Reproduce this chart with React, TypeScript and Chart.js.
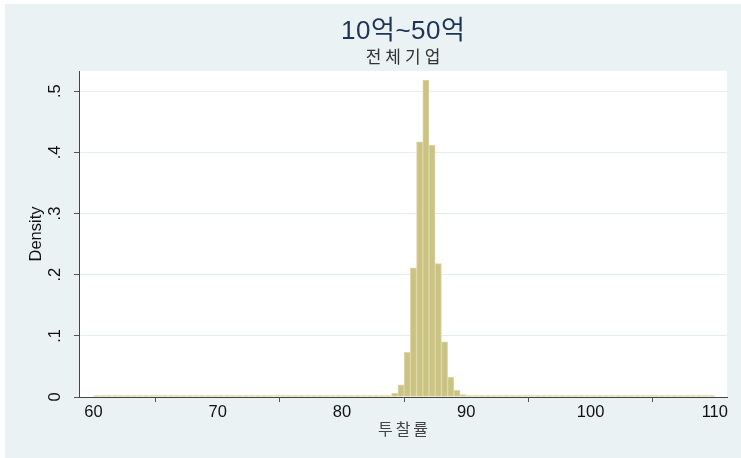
import React, { useEffect, useRef } from "react";
import { Chart, registerables } from "chart.js";

Chart.register(...registerables);

const titleText = "10억~50억";
const subtitleText = "전체기업";
const xTitle = "투찰률";
const yTitle = "Density";

const binStart = 60;
const binWidth = 0.5;
// density per bin (60.0–60.5, 60.5–61.0, ... 109.5–110.0)
const densities = [
  0, 0, 0, 0, 0, 0, 0, 0, 0, 0,
  0, 0, 0, 0, 0, 0, 0, 0, 0, 0,
  0, 0, 0, 0, 0, 0, 0, 0, 0, 0,
  0, 0, 0, 0, 0, 0, 0, 0, 0, 0,
  0, 0, 0, 0, 0, 0, 0, 0.001, 0.006, 0.02,
  0.073, 0.211, 0.417, 0.518, 0.412, 0.218, 0.09, 0.032, 0.011, 0.004,
  0.001, 0, 0, 0, 0, 0, 0, 0, 0, 0,
  0, 0, 0, 0, 0, 0, 0, 0, 0, 0,
  0, 0, 0, 0, 0, 0, 0, 0, 0, 0,
  0, 0, 0, 0, 0, 0, 0, 0, 0, 0,
];
const xTicks = [60, 70, 80, 90, 100, 110];
const yTicks = [0, 0.1, 0.2, 0.3, 0.4, 0.5];
const yTickLabels = ["0", ".1", ".2", ".3", ".4", ".5"];

const LATIN = "'Liberation Sans', Arial, 'Noto Sans CJK KR', sans-serif";
const KR = "'Liberation Sans', 'Noto Sans CJK KR', sans-serif";

function spacedText(ctx: CanvasRenderingContext2D, text: string, cx: number, cy: number, spacing: number) {
  const chars = Array.from(text);
  const widths = chars.map((c) => ctx.measureText(c).width);
  const total = widths.reduce((a, b) => a + b, 0) + spacing * (chars.length - 1);
  let x = cx - total / 2;
  ctx.textAlign = "left";
  chars.forEach((c, i) => {
    ctx.fillText(c, x, cy);
    x += widths[i] + spacing;
  });
}

export default function App() {
  const ref = useRef<HTMLCanvasElement | null>(null);

  useEffect(() => {
    document.body.style.margin = "0";
    const canvas = ref.current;
    if (!canvas) return;

    const bgPlugin = {
      id: "bgPlugin",
      beforeDraw(chart: any) {
        const { ctx, chartArea } = chart;
        ctx.save();
        ctx.fillStyle = "#ffffff";
        ctx.fillRect(0, 0, chart.width, chart.height);
        ctx.fillStyle = "#eaf2f3";
        ctx.fillRect(5, 4, chart.width - 5, chart.height - 4);
        ctx.fillStyle = "#ffffff";
        ctx.fillRect(chartArea.left, chartArea.top, chartArea.right - chartArea.left, chartArea.bottom - chartArea.top);
        ctx.restore();
      },
      afterDraw(chart: any) {
        const { ctx, chartArea } = chart;
        const cx = (chartArea.left + chartArea.right) / 2;
        const cy = (chartArea.top + chartArea.bottom) / 2;
        ctx.save();
        ctx.textBaseline = "middle";
        ctx.fillStyle = "#1e3359";
        ctx.font = `26px ${KR}`;
        spacedText(ctx, titleText, cx, 32, 0.5);
        ctx.fillStyle = "#333333";
        ctx.font = `17px ${KR}`;
        spacedText(ctx, subtitleText, cx, 58, 4);
        ctx.fillStyle = "#444444";
        ctx.font = `16px ${KR}`;
        spacedText(ctx, xTitle, cx, 431, 3);
        ctx.translate(36, cy);
        ctx.rotate(-Math.PI / 2);
        ctx.textAlign = "center";
        ctx.fillStyle = "#111111";
        ctx.font = `16.5px ${LATIN}`;
        ctx.fillText(yTitle, 0, 0);
        ctx.restore();
      },
    };

    const data = densities.map((d, i) => ({ x: binStart + binWidth * (i + 0.5), y: d }));

    const chart = new Chart(canvas, {
      type: "bar",
      data: {
        datasets: [
          {
            data: data as any,
            backgroundColor: "#cbc383",
            borderColor: "#dcd7a4",
            borderWidth: 1,
            barPercentage: 1,
            categoryPercentage: 1,
            minBarLength: 1.5,
          },
        ],
      },
      options: {
        animation: false,
        responsive: false,
        maintainAspectRatio: false,
        devicePixelRatio: 1,
        layout: { padding: { left: 0, right: 14, top: 71, bottom: 0 }, autoPadding: false } as any,
        plugins: {
          legend: { display: false },
          tooltip: { enabled: false },
          title: { display: false },
        },
        scales: {
          x: {
            type: "linear",
            min: 58.84,
            max: 110.98,
            offset: false,
            afterFit: (s: any) => {
              s.height = 61;
            },
            afterBuildTicks: (s: any) => {
              s.ticks = xTicks.map((v) => ({ value: v }));
            },
            grid: {
              drawOnChartArea: false,
              drawTicks: true,
              tickLength: 5,
              tickColor: "#555555",
            },
            border: { display: true, color: "#444444", width: 1 },
            ticks: {
              color: "#111111",
              font: { size: 16.5, family: LATIN },
              padding: 1,
              maxRotation: 0,
              minRotation: 0,
              autoSkip: false,
              callback: (v: any) => String(v),
            },
          },
          y: {
            type: "linear",
            min: 0,
            max: 0.533,
            afterFit: (s: any) => {
              s.width = 79;
            },
            afterBuildTicks: (s: any) => {
              s.ticks = yTicks.map((v) => ({ value: v }));
            },
            grid: {
              color: "#e5edef",
              lineWidth: 1,
              drawTicks: true,
              tickLength: 5,
              tickColor: "#555555",
            },
            border: { display: true, color: "#444444", width: 1 },
            ticks: {
              color: "#111111",
              font: { size: 16.5, family: LATIN },
              padding: 12,
              minRotation: 90,
              maxRotation: 90,
              crossAlign: "center",
              autoSkip: false,
              callback: (v: any) => {
                const i = yTicks.findIndex((t) => Math.abs(t - v) < 1e-9);
                return i >= 0 ? yTickLabels[i] : "";
              },
            },
          },
        },
      },
      plugins: [bgPlugin],
    });

    return () => chart.destroy();
  }, []);

  return (
    <div style={{ width: 741, height: 458 }}>
      <canvas ref={ref} width={741} height={458} style={{ display: "block", width: 741, height: 458 }} />
    </div>
  );
}
